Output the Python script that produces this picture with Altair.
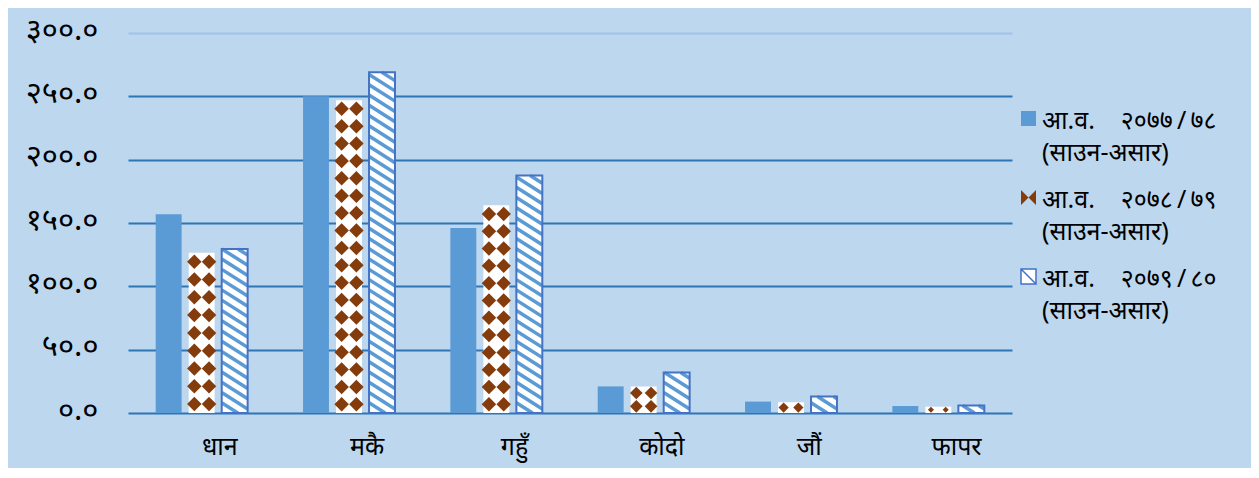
import altair as alt
import pandas as pd

# ---------------- data ----------------
categories = ["धान", "मकै", "गहुँ", "कोदो", "जौं", "फापर"]
series = [
    "आ.व. २०७७/७८ (साउन-असार)",
    "आ.व. २०७८/७९ (साउन-असार)",
    "आ.व. २०७९/८० (साउन-असार)",
]
values_7778 = [157.0, 250.0, 146.0, 21.0, 9.0, 5.5]
values_7879 = [126.5, 247.0, 164.0, 21.0, 8.5, 5.0]
values_7980 = [129.5, 269.0, 187.5, 32.0, 13.0, 6.0]
y_ticks = [0, 50, 100, 150, 200, 250, 300]
y_tick_labels = ["०.०", "५०.०", "१००.०", "१५०.०", "२००.०", "२५०.०", "३००.०"]

rows = []
for si, (name, vals) in enumerate(zip(series, [values_7778, values_7879, values_7980])):
    for ci, (cat, v) in enumerate(zip(categories, vals)):
        rows.append({"cat": cat, "ci": ci, "series": name, "si": si, "value": v})
df = pd.DataFrame(rows)

# ---------------- layout / style ----------------
PLOT_W, PLOT_H = 884, 380
STEP = 0.224          # distance between bars of a group (x units)
HW = 0.088            # half bar width (x units)
COL_OFF = 0.05        # diamond column offset
PX_PER_Y = PLOT_H / 300.0
D = 13.0              # stripe drop across bar (y units)
P = 8.1               # stripe vertical period (y units)
W = 2 * HW
LABEL_SHIFT = 0.12    # category labels sit slightly right of group centre
LABEL_DY = -10        # shared vertical nudge of guide labels

BG = "#BDD7EE"
BLUE = "#5B9BD5"
BROWN = "#843C0C"
BORDER = "#4472C4"
GRID = "#2E75B6"
FONT = "Noto Sans"

cat_arr = "[" + ",".join("'%s'" % c for c in categories) + "]"
ylab_arr = "[" + ",".join("'%s'" % c for c in y_tick_labels) + "]"

x_axis = alt.Axis(
    values=[i + 0.5 + LABEL_SHIFT for i in range(len(categories))],
    labelExpr=f"{cat_arr}[floor(datum.value)]",
    grid=False, ticks=False, domain=False, title=None,
    labelFontSize=25, labelPadding=31, labelColor="#000000", labelFont=FONT,
)
y_axis = alt.Axis(
    values=y_ticks,
    labelExpr=f"{ylab_arr}[round(datum.value / 50)]",
    grid=True, ticks=False, domain=False, title=None,
    gridColor={"condition": {"test": "datum.value === 300", "value": "#9DC3E6"}, "value": GRID},
    gridWidth=2,
    labelFontSize=31, labelPadding=30, labelOffset=7, labelColor="#000000", labelFont=FONT,
)
xs = alt.Scale(domain=[0, 6], nice=False, zero=False)
ys = alt.Scale(domain=[0, 300], nice=False)

base = alt.Chart(df).transform_calculate(
    xc=f"datum.ci + 0.5 + (datum.si - 1) * {STEP}",
).transform_calculate(
    xl=f"datum.xc - {HW}", xr=f"datum.xc + {HW}", y0="0"
)

bars = base.mark_rect().encode(
    x=alt.X("xl:Q", scale=xs, axis=x_axis),
    x2="xr:Q",
    y=alt.Y("value:Q", scale=ys, axis=y_axis),
    y2="y0:Q",
    color=alt.Color("si:N", scale=alt.Scale(domain=[0, 1, 2], range=[BLUE, "#FFFFFF", "#FFFFFF"]), legend=None),
)

diamonds = base.transform_filter("datum.si == 1").transform_calculate(
    n="max(1, round(datum.value / 13.4))"
).transform_calculate(
    idx="sequence(0, datum.n)"
).transform_flatten(["idx"]).transform_calculate(
    cols="[-1, 1]"
).transform_flatten(["cols"]).transform_calculate(
    yc="(datum.idx + 0.5) * datum.value / datum.n",
    xd=f"datum.xc + datum.cols * {COL_OFF}",
    ds=f"pow(min(14.5, 0.95 * datum.value / datum.n * {PX_PER_Y}), 2)",
).mark_point(shape="diamond", filled=True, color=BROWN, opacity=1).encode(
    x=alt.X("xd:Q", scale=xs, axis=x_axis),
    y=alt.Y("yc:Q", scale=ys, axis=y_axis),
    size=alt.Size("ds:Q", scale=None, legend=None),
)

stripes = base.transform_filter("datum.si == 2").transform_calculate(
    s=f"sequence(0, datum.value + {D}, {P})"
).transform_flatten(["s"]).transform_calculate(
    x1=f"datum.s <= datum.value ? datum.xl : datum.xl + (datum.s - datum.value) * {W} / {D}",
    y1="min(datum.s, datum.value)",
    x2s=f"datum.s - {D} >= 0 ? datum.xr : datum.xl + datum.s * {W} / {D}",
    y2s=f"max(datum.s - {D}, 0)",
).transform_filter("datum.x2s - datum.x1 > 0.003").mark_rule(
    color=BLUE, strokeWidth=3.5, strokeCap="butt"
).encode(
    x=alt.X("x1:Q", scale=xs, axis=x_axis),
    x2="x2s:Q",
    y=alt.Y("y1:Q", scale=ys, axis=y_axis),
    y2="y2s:Q",
)

borders = base.transform_filter("datum.si == 2").mark_rect(
    filled=False, color=BORDER, strokeWidth=2
).encode(
    x=alt.X("xl:Q", scale=xs, axis=x_axis),
    x2="xr:Q",
    y=alt.Y("value:Q", scale=ys, axis=y_axis),
    y2="y0:Q",
)

BOWTIE = "M-1,-1L0,0L-1,1Z M1,-1L0,0L1,1Z"
BOXDIAG = "M-1,-1H1V1H-1Z M-1,-1L1,1"
line1 = "slice(datum.label, 0, indexof(datum.label, ' ('))"
line2 = "slice(datum.label, indexof(datum.label, ' (') + 1)"
leg = alt.Legend(
    orient="none", legendX=888, legendY=73, title=None,
    labelFontSize=25, labelFont=FONT, labelColor="#000000", labelLimit=400,
    labelExpr=f"[replace(replace({line1}, ' ', '\u00a0\u00a0\u00a0\u00a0'), '/', '\u2009/\u2009'), {line2}]",
    labelBaseline="top", labelOffset=1, rowPadding=19, padding=0,
    symbolSize=225, symbolStrokeWidth=1.5,
)
legend_layer = alt.Chart(pd.DataFrame({"series": series})).transform_filter("false").mark_point(
    size=225, opacity=1, strokeWidth=1.5
).encode(
    fill=alt.Fill("series:N", scale=alt.Scale(domain=series, range=[BLUE, BROWN, "#FFFFFF"]), legend=leg),
    stroke=alt.Stroke("series:N", scale=alt.Scale(domain=series, range=["transparent", "transparent", BORDER]), legend=leg),
    shape=alt.Shape("series:N", scale=alt.Scale(domain=series, range=["square", BOWTIE, BOXDIAG]), legend=leg),
)

chart = alt.layer(bars, diamonds, stripes, borders, legend_layer).properties(
    width=PLOT_W, height=PLOT_H,
    padding={"left": 120, "top": 25, "right": 239, "bottom": 55},
    autosize=alt.AutoSizeParams(type="none"),
    background=BG,
).configure(
    style={"guide-label": {"lineHeight": 32, "dy": LABEL_DY}}
).configure_view(strokeWidth=0)

chart.save("out.html", embed_options={"renderer": "svg", "actions": False})
